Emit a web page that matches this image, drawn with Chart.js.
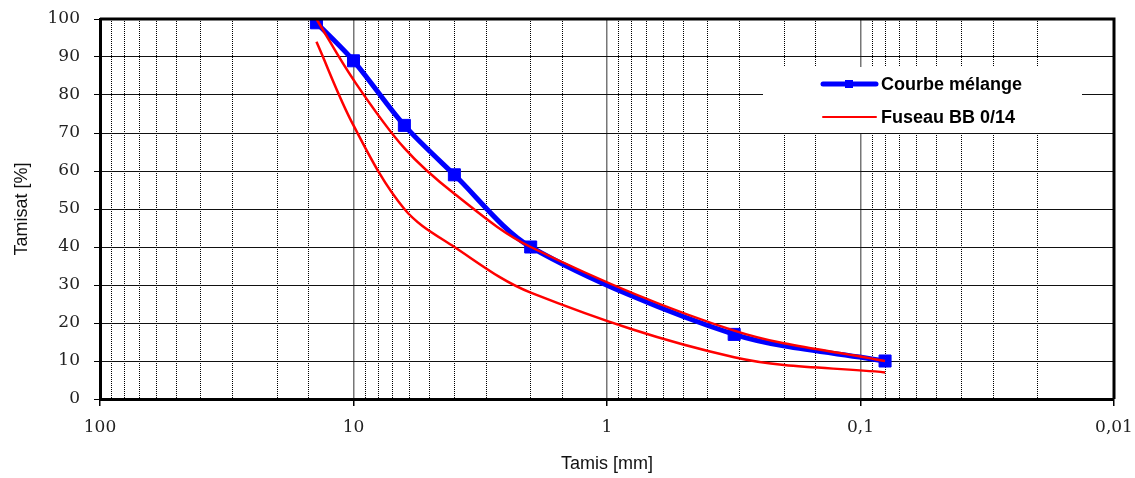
<!DOCTYPE html>
<html>
<head>
<meta charset="utf-8">
<script src="https://cdn.jsdelivr.net/npm/chart.js@4.4.0/dist/chart.umd.min.js"></script>
<style>
  html, body { margin: 0; padding: 0; background: #fff; }
</style>
</head>
<body>
<canvas id="chart" width="1135" height="478"></canvas>
<script>
// Sieve openings (mm) and passing percentages
const sieves = [14, 10, 6.3, 4, 2, 0.315, 0.08];
const melange = [99, 89, 72, 59, 40, 17, 10];
const fuseauMax = [100, 84, 66, 54, 40, 18, 10];
const fuseauMin = [94, 72, 50, 40, 28, 11, 7];
const yTicks = [0, 10, 20, 30, 40, 50, 60, 70, 80, 90, 100];

const legendItems = [
    { label: 'Courbe mélange', color: '#0000ff', width: 5, marker: true },
    { label: 'Fuseau BB 0/14', color: '#ff0000', width: 2, marker: false }
];

function toPoints(values) {
    return sieves.map((s, i) => ({ x: s, y: values[i] }));
}

function isDecade(v) {
    const l = Math.log10(v);
    return Math.abs(l - Math.round(l)) < 1e-6;
}

// Top/right frame + legend box drawn on top of the grid
const framePlugin = {
    id: 'frameAndLegend',
    afterDraw(chart) {
        const ctx = chart.ctx;
        const a = chart.chartArea;
        ctx.save();
        ctx.strokeStyle = '#000';
        ctx.lineWidth = 3;
        ctx.beginPath();
        ctx.moveTo(a.left, a.top);
        ctx.lineTo(a.right, a.top);
        ctx.lineTo(a.right, a.bottom);
        ctx.stroke();

        // legend box
        ctx.fillStyle = '#fff';
        ctx.fillRect(763, 67, 319, 66);
        ctx.font = 'bold 18px "Liberation Sans", Arial, sans-serif';
        ctx.textBaseline = 'middle';
        legendItems.forEach((item, i) => {
            const y = 84 + i * 33;
            ctx.strokeStyle = item.color;
            ctx.lineWidth = item.width;
            ctx.lineCap = 'round';
            ctx.beginPath();
            ctx.moveTo(823, y);
            ctx.lineTo(876, y);
            ctx.stroke();
            if (item.marker) {
                ctx.fillStyle = item.color;
                ctx.fillRect(845, y - 4, 8, 8);
            }
            ctx.fillStyle = '#000';
            ctx.fillText(item.label, 881, y + 1);
        });
        ctx.restore();
    }
};

const serifFont = { family: '"DejaVu Serif", serif', size: 17 };
const sansTitle = { family: '"Liberation Sans", Arial, sans-serif', size: 18 };

new Chart(document.getElementById('chart'), {
    type: 'line',
    data: {
        datasets: [
            {
                label: 'Courbe mélange',
                data: toPoints(melange),
                borderColor: '#0000ff',
                backgroundColor: '#0000ff',
                borderWidth: 5,
                pointStyle: 'rect',
                pointRadius: 8.5,
                pointBorderWidth: 1,
                tension: 0.3,
                order: 1
            },
            {
                label: 'Fuseau BB 0/14',
                data: toPoints(fuseauMax),
                borderColor: '#ff0000',
                borderWidth: 2.5,
                pointRadius: 0,
                tension: 0.35,
                order: 0
            },
            {
                label: 'Fuseau BB 0/14 min',
                data: toPoints(fuseauMin),
                borderColor: '#ff0000',
                borderWidth: 2.5,
                pointRadius: 0,
                tension: 0.35,
                order: 0
            }
        ]
    },
    options: {
        responsive: false,
        devicePixelRatio: 1,
        animation: false,
        layout: { padding: { left: 0, right: 21, top: 19, bottom: 0 } },
        plugins: {
            legend: { display: false },
            tooltip: { enabled: false }
        },
        scales: {
            x: {
                type: 'logarithmic',
                reverse: true,
                min: 0.01,
                max: 100,
                afterFit: s => { s.height = 79; s.paddingLeft = 0; s.paddingRight = 0; },
                grid: {
                    color: c => (c.tick && isDecade(c.tick.value)) ? '#777' : 'transparent',
                    lineWidth: 1.5,
                    tickColor: c => (c.tick && isDecade(c.tick.value)) ? '#000' : 'transparent',
                    tickLength: 7
                },
                border: { color: '#000', width: 3 },
                ticks: {
                    autoSkip: false,
                    maxRotation: 0,
                    padding: 11,
                    color: '#222',
                    font: serifFont,
                    callback: v => isDecade(v) ? String(v).replace('.', ',') : ''
                },
                title: {
                    display: true,
                    text: 'Tamis [mm]',
                    color: '#111',
                    font: sansTitle,
                    padding: { top: 0, bottom: 3 }
                }
            },
            x2: {
                type: 'logarithmic',
                position: 'bottom',
                reverse: true,
                min: 0.01,
                max: 100,
                afterFit: s => { s.height = 0; s.paddingLeft = 0; s.paddingRight = 0; },
                grid: {
                    color: c => (c.tick && !isDecade(c.tick.value)) ? '#000' : 'transparent',
                    lineWidth: 1,
                    drawTicks: false
                },
                border: { display: false, dash: [1, 1] },
                ticks: { display: false, autoSkip: false }
            },
            y: {
                min: 0,
                max: 100,
                afterFit: s => { s.width = 100; s.paddingTop = 0; s.paddingBottom = 0; },
                afterBuildTicks: s => { s.ticks = yTicks.map(v => ({ value: v })); },
                grid: { color: '#111', lineWidth: 1, tickLength: 6, tickColor: '#000' },
                border: { color: '#000', width: 3 },
                ticks: { padding: 14, color: '#222', font: serifFont },
                title: {
                    display: true,
                    text: 'Tamisat [%]',
                    color: '#111',
                    font: sansTitle,
                    padding: { top: 11, bottom: 0 }
                }
            }
        }
    },
    plugins: [framePlugin]
});
</script>
</body>
</html>
